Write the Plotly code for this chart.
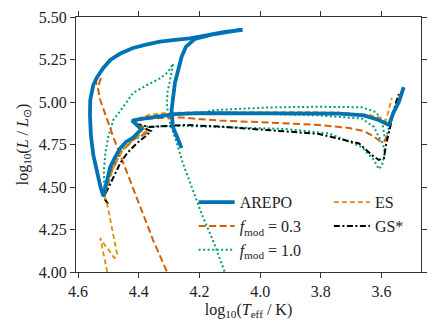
import plotly.graph_objects as go

# AREPO merger track
arepo_x = [4.259, 4.288, 4.292, 4.281, 4.259, 4.245, 4.215, 4.150, 4.084, 4.058, 4.117, 4.199, 4.232,
           4.281, 4.330, 4.376, 4.419, 4.461, 4.494, 4.517, 4.537, 4.550, 4.560, 4.561, 4.558, 4.550,
           4.538, 4.527, 4.517, 4.507, 4.494, 4.478, 4.461, 4.442, 4.419, 4.392, 4.422, 4.396, 4.363,
           4.330, 4.281, 4.199, 4.035, 3.871, 3.740, 3.658, 3.609, 3.576, 3.560, 3.543, 3.527]
arepo_y = [4.729, 4.855, 4.953, 5.112, 5.266, 5.324, 5.371, 5.400, 5.418, 5.424, 5.412, 5.385, 5.374,
           5.365, 5.355, 5.338, 5.318, 5.285, 5.247, 5.200, 5.147, 5.100, 5.012, 4.924, 4.806, 4.688,
           4.588, 4.506, 4.447, 4.529, 4.618, 4.676, 4.729, 4.765, 4.790, 4.840, 4.890, 4.900, 4.909,
           4.918, 4.929, 4.935, 4.935, 4.935, 4.932, 4.921, 4.894, 4.865, 4.941, 5.000, 5.088]

# f_mod = 0.3
f03_x = [4.545, 4.535, None, 4.525, 4.535, 4.527, 4.506, 4.484, 4.451, 4.406, 4.353, 4.307, 4.297, None,
         4.512, 4.488, 4.455, 4.415, 4.373, 4.396, 4.406, 4.379, 4.330, 4.265, 4.133, 3.969, 3.806,
         3.707, 3.658, 3.625, 3.602, 3.589, 3.579]
f03_y = [5.141, 5.082, None, 5.141, 5.082, 5.012, 4.906, 4.794, 4.641, 4.435, 4.188, 4.000, 3.953, None,
         4.447, 4.600, 4.712, 4.782, 4.818, 4.871, 4.891, 4.900, 4.906, 4.909, 4.891, 4.879, 4.865,
         4.847, 4.829, 4.797, 4.765, 4.771, 4.812]

# f_mod = 1.0
f10_x = [4.107, 4.117, 4.156, 4.189, 4.232, 4.255, 4.278, 4.297, 4.307, 4.306, 4.297, 4.287, 4.304,
         4.330, 4.373, 4.419, 4.451, 4.484, 4.501, 4.510, 4.515, 4.515, 4.514, 4.494, 4.461, 4.419,
         4.379, 4.402, 4.363, 4.248, 4.133, 3.914, 3.773, 3.665, 3.625, 3.609, 3.599, 3.589, 3.596,
         3.609, 3.625, 3.665, 3.806, 3.969, 4.133, 4.183, 4.150, 3.969, 3.806, 3.665, 3.619, 3.599,
         3.592, 3.588, 3.576, 3.560]
f10_y = [3.953, 4.000, 4.188, 4.324, 4.524, 4.641, 4.776, 4.876, 4.971, 5.053, 5.129, 5.226, 5.176,
         5.139, 5.100, 5.053, 4.972, 4.894, 4.794, 4.700, 4.600, 4.512, 4.471, 4.588, 4.706, 4.776,
         4.812, 4.853, 4.856, 4.859, 4.853, 4.841, 4.815, 4.735, 4.659, 4.606, 4.624, 4.700, 4.759,
         4.794, 4.853, 4.903, 4.921, 4.929, 4.935, 4.941, 4.953, 4.968, 4.972, 4.969, 4.941, 4.894,
         4.818, 4.771, 4.847, 4.947]

# ES
es_x = [4.501, 4.504, 4.527, 4.510, 4.494, 4.481, 4.471, 4.481, 4.494, 4.507, 4.514, 4.487, 4.455,
        4.412, 4.376, 4.415, 4.396, 4.363, 4.313, 4.199, 3.871, 3.740, 3.642, 3.599, 3.586, 3.576, 3.566]
es_y = [3.953, 4.000, 4.200, 4.153, 4.118, 4.082, 4.100, 4.188, 4.318, 4.424, 4.447, 4.600, 4.718,
        4.788, 4.829, 4.888, 4.906, 4.926, 4.935, 4.941, 4.941, 4.938, 4.924, 4.906, 4.888, 4.965, 5.024]

# GS*
gs_x = [4.501, 4.517, 4.504, 4.484, 4.461, 4.438, 4.406, 4.373, 4.360, 4.392, 4.422, 4.402, 4.363,
        4.248, 4.133, 4.035, 3.969, 3.806, 3.674, 3.632, 3.609, 3.592, 3.586, 3.576, 3.566, 3.555, 3.543]
gs_y = [4.400, 4.441, 4.482, 4.559, 4.641, 4.700, 4.759, 4.806, 4.829, 4.853, 4.888, 4.868, 4.853,
        4.865, 4.856, 4.844, 4.835, 4.812, 4.756, 4.688, 4.659, 4.671, 4.741, 4.818, 4.912, 4.982, 5.047]

x_ticks = [4.6, 4.4, 4.2, 4.0, 3.8, 3.6]
y_ticks = [4.00, 4.25, 4.50, 4.75, 5.00, 5.25, 5.50]

FONT = "Liberation Serif, Times New Roman, serif"

fig = go.Figure()
fig.add_trace(go.Scatter(x=f10_x, y=f10_y, mode='lines', name='<i>f</i><sub>mod</sub> = 1.0',
                         line=dict(color='#029e73', width=2, dash='2px,2.5px'), legend='legend'))
fig.add_trace(go.Scatter(x=f03_x, y=f03_y, mode='lines', name='<i>f</i><sub>mod</sub> = 0.3',
                         line=dict(color='#d55e00', width=2, dash='7px,3.5px'), legend='legend'))
fig.add_trace(go.Scatter(x=gs_x, y=gs_y, mode='lines', name='GS*',
                         line=dict(color='black', width=2, dash='6px,2.5px,2px,2.5px'), legend='legend2'))
fig.add_trace(go.Scatter(x=es_x, y=es_y, mode='lines', name='ES',
                         line=dict(color='#de8f05', width=1.8, dash='5px,3px'), legend='legend2'))
fig.add_trace(go.Scatter(x=arepo_x, y=arepo_y, mode='lines', name='AREPO',
                         line=dict(color='#0173b2', width=3.8), legend='legend'))

axis_style = dict(showline=True, linecolor='#333', linewidth=1.3, mirror='ticks',
                  ticks='outside', ticklen=5, tickwidth=1.2, tickcolor='#333', automargin=False,
                  showgrid=False, zeroline=False, tickfont=dict(family=FONT, size=16, color='#222'))

# page body adds an 8px offset, so the figure is drawn 8px smaller
fig.update_layout(
    width=431, height=325,
    margin=dict(l=68, r=18, t=9, b=61),
    paper_bgcolor='white', plot_bgcolor='white',
    font=dict(family=FONT, size=16, color='#222'),
    xaxis=dict(range=[4.607, 3.47], tickvals=x_ticks, ticktext=[f'{v:.1f}' for v in x_ticks],
               title=dict(text='log<sub>10</sub>(<i>T</i><sub>eff</sub> / K)', standoff=4,
                          font=dict(family=FONT, size=16)), **axis_style),
    yaxis=dict(range=[4.0, 5.5], tickvals=y_ticks, ticktext=[f'{v:.2f}' for v in y_ticks],
               title=dict(text='log<sub>10</sub>(<i>L</i> / <i>L</i><sub>⊙</sub>)', standoff=6,
                          font=dict(family=FONT, size=16)), **axis_style),
    legend=dict(x=0.341, y=0.34, xanchor='left', yanchor='top', bgcolor='rgba(0,0,0,0)',
                traceorder='reversed', font=dict(family=FONT, size=16), tracegroupgap=0,
                itemwidth=36),
    legend2=dict(x=0.733, y=0.34, xanchor='left', yanchor='top', bgcolor='rgba(0,0,0,0)',
                 traceorder='reversed', font=dict(family=FONT, size=16), itemwidth=36),
    showlegend=True,
)

fig.write_html("out.html")
